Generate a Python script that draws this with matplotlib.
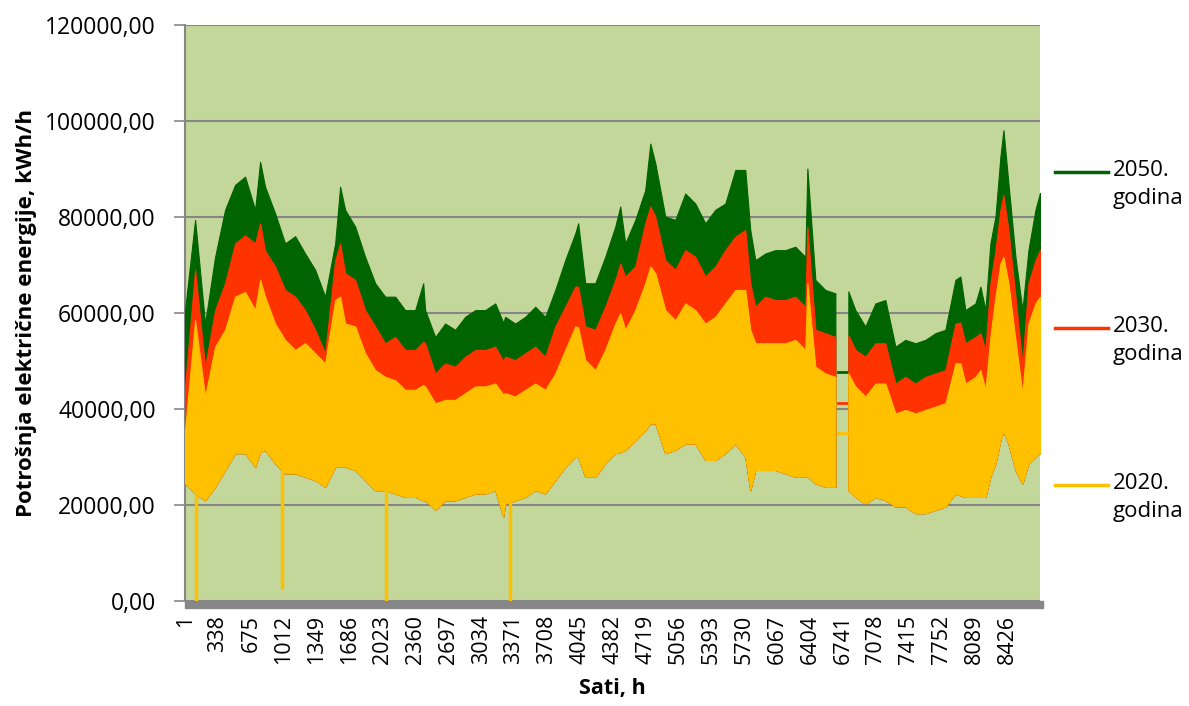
import numpy as np
import matplotlib.pyplot as plt
from matplotlib.lines import Line2D
from matplotlib.patches import Rectangle

plt.rcParams['font.family'] = ['Open Sans', 'DejaVu Sans']

hours = [1, 104, 206, 309, 411, 514, 616, 719, 770, 821,
         923, 1026, 1129, 1231, 1334, 1436, 1539, 1590, 1641, 1744,
         1846, 1949, 2051, 2154, 2256, 2359, 2441, 2461, 2564, 2666,
         2769, 2871, 2974, 3076, 3179, 3261, 3281, 3384, 3486, 3589,
         3691, 3794, 3896, 3999, 4029, 4101, 4204, 4306, 4409, 4460,
         4511, 4614, 4716, 4768, 4819, 4921, 5024, 5126, 5229, 5331,
         5434, 5536, 5639, 5741, 5792, 5844, 5946, 6049, 6151, 6254,
         6356, 6377, 6459, 6561, 6664, 6797, 6869, 6971, 7074, 7176,
         7279, 7381, 7484, 7586, 7689, 7791, 7894, 7945, 7996, 8099,
         8150, 8201, 8252, 8304, 8355, 8386, 8437, 8509, 8580, 8642,
         8714, 8760]

top_2050 = [60.6, 79.4, 57.8, 71.7, 81.5, 86.7, 88.4, 81.5, 91.5, 86.3,
            80.8, 74.5, 76.0, 72.4, 69.0, 63.4, 74.5, 86.3, 81.5, 78.0,
            71.7, 66.2, 63.4, 63.4, 60.6, 60.6, 66.2, 60.6, 55.0, 57.8,
            56.5, 59.2, 60.6, 60.6, 62.0, 58.0, 59.2, 57.8, 59.2, 61.3,
            59.2, 64.8, 71.0, 76.6, 78.7, 66.2, 66.2, 71.7, 78.0, 82.2,
            74.5, 79.4, 85.6, 95.3, 91.2, 80.1, 79.4, 84.9, 82.8, 78.7,
            81.5, 82.8, 89.8, 89.8, 77.3, 71.0, 72.4, 73.1, 73.1, 73.8,
            71.7, 90.1, 66.9, 64.8, 64.1, 64.5, 60.6, 57.2, 62.0, 62.7,
            53.0, 54.4, 53.7, 54.4, 55.8, 56.5, 66.9, 67.6, 60.6, 62.0,
            65.5, 60.6, 74.5, 80.1, 92.6, 98.1, 87.0, 71.7, 60.6, 73.1,
            81.5, 85.0]

top_2030 = [44.7, 69.0, 48.8, 60.6, 66.2, 74.5, 76.2, 74.5, 78.7, 73.0,
            69.7, 64.8, 63.4, 60.6, 56.5, 51.6, 71.0, 74.5, 68.3, 66.9,
            60.6, 57.2, 53.7, 55.0, 52.3, 52.3, 54.0, 53.7, 47.4, 49.5,
            48.8, 50.9, 52.3, 52.3, 53.0, 50.0, 50.9, 50.2, 51.6, 53.0,
            50.9, 57.2, 61.3, 65.5, 65.5, 57.2, 56.5, 61.3, 66.9, 70.3,
            67.6, 69.7, 78.7, 82.2, 80.1, 71.0, 69.0, 73.1, 71.7, 67.6,
            69.7, 73.1, 75.9, 77.3, 66.2, 61.3, 63.4, 62.7, 62.7, 63.4,
            61.3, 78.0, 56.5, 55.8, 55.0, 55.4, 52.3, 50.9, 53.7, 53.7,
            45.3, 46.7, 45.3, 46.7, 47.4, 48.1, 57.8, 58.0, 53.7, 55.0,
            55.8, 52.3, 66.2, 73.1, 81.5, 84.6, 77.3, 63.4, 49.5, 66.2,
            71.0, 73.1]

top_2020 = [35.6, 58.5, 42.6, 53.0, 56.5, 63.4, 64.4, 60.6, 66.9, 63.4,
            57.8, 54.4, 52.3, 53.7, 51.6, 49.5, 62.7, 63.4, 57.8, 57.2,
            51.6, 48.1, 46.7, 46.0, 44.0, 44.0, 45.0, 44.7, 41.2, 41.9,
            41.9, 43.3, 44.7, 44.7, 45.3, 43.0, 43.3, 42.6, 44.0, 45.3,
            44.0, 47.4, 52.3, 57.2, 57.0, 50.2, 48.1, 52.3, 57.8, 59.9,
            56.5, 60.6, 66.2, 69.7, 68.3, 60.6, 58.5, 62.0, 60.6, 57.8,
            59.2, 62.0, 64.8, 64.8, 56.5, 53.7, 53.7, 53.7, 53.7, 54.4,
            52.3, 66.2, 48.8, 47.4, 46.7, 47.4, 44.7, 42.6, 45.3, 45.3,
            39.1, 39.8, 39.1, 39.8, 40.5, 41.2, 49.5, 49.5, 45.3, 46.7,
            48.1, 44.0, 55.0, 63.4, 70.3, 71.7, 66.2, 54.4, 43.3, 57.8,
            62.0, 63.4]

# daily minimum (lowest series, the others lie above it)
low_2020 = [24.5, 22.4, 21.0, 23.8, 27.3, 30.8, 30.8, 28.0, 31.0, 31.5,
            28.7, 26.6, 26.6, 25.9, 25.2, 23.8, 28.0, 28.0, 28.0, 27.3,
            25.2, 23.1, 23.1, 22.4, 21.7, 21.7, 21.0, 21.0, 19.0, 21.0,
            21.0, 21.7, 22.4, 22.4, 23.1, 17.6, 20.3, 21.0, 21.7, 23.1,
            22.4, 25.2, 28.0, 30.1, 30.0, 25.9, 25.9, 28.7, 30.8, 31.0,
            31.5, 33.5, 35.6, 37.0, 37.0, 30.8, 31.5, 32.8, 32.8, 29.4,
            29.4, 30.8, 32.8, 30.1, 23.1, 27.3, 27.3, 27.3, 26.6, 25.9,
            25.9, 26.0, 24.5, 23.8, 23.8, 23.1, 21.7, 20.3, 21.7, 21.0,
            19.7, 19.7, 18.3, 18.3, 19.0, 19.7, 22.4, 22.0, 21.7, 21.7,
            21.7, 21.7, 25.9, 28.7, 33.5, 35.3, 32.8, 27.3, 24.5, 28.7,
            30.1, 30.8]

# missing-data stretch where every series stays flat
gap_hours = [6694, 6787]
gap_2050 = 47.8
gap_2030 = 41.2
gap_2020 = 35.1

# single-hour drops of the 2020 series
dip_hours = [110, 990, 2061, 3330]
dip_2020 = [0.0, 2.5, 0.0, 0.0]

labels = ['2050.\ngodina', '2030.\ngodina', '2020.\ngodina']
colors = ['#006400', '#FF3300', '#FFC000']
x_ticks = list(range(1, 8761, 337))

h = np.array(hours)
low = np.array(low_2020) * 1000
before = h < gap_hours[0]
after = h > gap_hours[1]

fig = plt.figure(figsize=(11.89, 7.06), dpi=100)
ax = fig.add_axes([185 / 1189, 105 / 706, 855 / 1189, 576 / 706])
ax.set_facecolor('#C4D79B')

for top, gap, c in zip([top_2050, top_2030, top_2020],
                       [gap_2050, gap_2030, gap_2020], colors):
    top = np.array(top) * 1000
    for part in [before, after]:
        ax.fill_between(h[part], low[part], top[part], color=c,
                        linewidth=0.8, edgecolor=c, zorder=3)
    ax.plot(gap_hours, [gap * 1000] * 2, color=c, lw=2, zorder=3)

dip_base = np.interp(dip_hours, h, low)
ax.vlines(dip_hours, np.array(dip_2020) * 1000, dip_base, color=colors[2],
          lw=2.5, zorder=3)

ax.set_xlim(0.5, 8760.5)
ax.set_ylim(0, 120000)
ax.set_yticks(range(0, 120001, 20000))
ax.set_yticklabels([f'{v:.2f}'.replace('.', ',') for v in range(0, 120001, 20000)],
                   fontsize=16.5)
ax.set_xticks(x_ticks)
ax.set_xticklabels([str(t) for t in x_ticks], rotation=90, fontsize=15.5)
ax.tick_params(axis='x', length=0, pad=10)
ax.tick_params(axis='y', length=8, color='#868686', width=1.2, pad=13)
ax.grid(axis='y', color='#868686', lw=1.5, zorder=1)
for s in ['top', 'right', 'bottom']:
    ax.spines[s].set_visible(False)
ax.spines['left'].set_color('#868686')
ax.spines['left'].set_linewidth(1.5)

# grey floor under the plot area
ax.add_patch(Rectangle((0, -0.013), 1.004, 0.013, transform=ax.transAxes,
                       color='#878787', clip_on=False, zorder=2))

ax.set_xlabel('Sati, h', fontsize=15.5, fontweight='bold', labelpad=10)
ax.set_ylabel('Potrošnja električne energije, kWh/h', fontsize=16,
              fontweight='bold', labelpad=6)

# legend on the right
for lab, c, y in zip(labels, colors, [172, 328, 485]):
    yf = 1 - y / 706
    fig.add_artist(Line2D([1055 / 1189, 1108 / 1189], [yf, yf], color=c, lw=2.5))
    fig.text(1113 / 1189, yf + 12 / 706, lab, fontsize=16, va='top',
             linespacing=1.45)

fig.savefig('out.png', dpi=100)
